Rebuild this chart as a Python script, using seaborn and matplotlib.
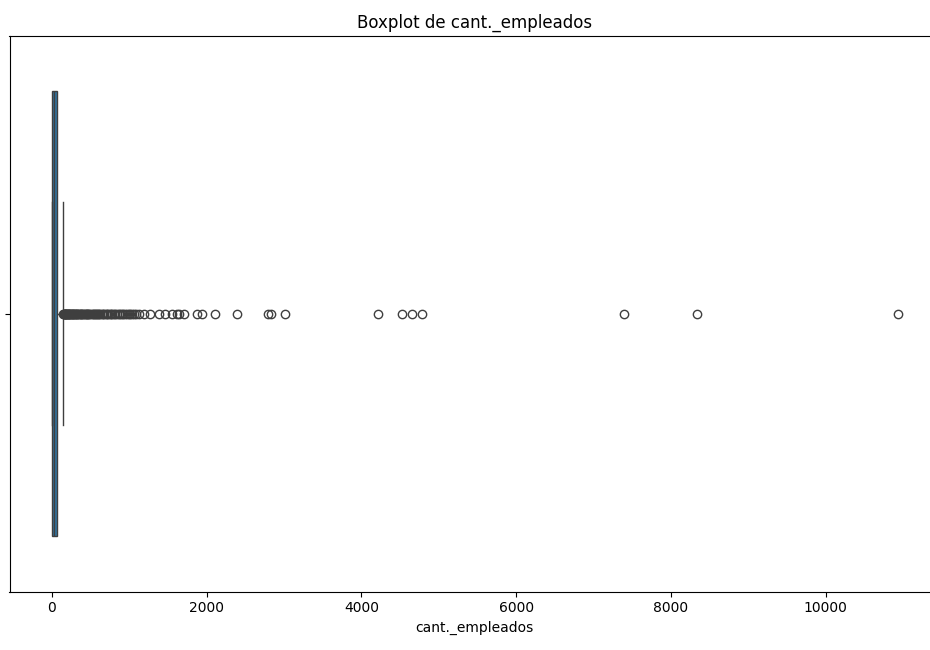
import numpy as np
import pandas as pd
import matplotlib
matplotlib.use("Agg")
import matplotlib.pyplot as plt
from matplotlib.ticker import NullLocator
import seaborn as sns

# Frequency table of the bulk of the distribution (value, count)
bulk_values = [1, 2, 3, 5, 8, 10, 12, 15, 20, 25, 30, 40, 50, 60, 65, 80, 100, 120, 145]
bulk_counts = [40, 30, 30, 40, 30, 40, 30, 40, 40, 50, 40, 40, 40, 40, 30, 20, 30, 20, 10]

# Large values (drawn as outliers)
outlier_values = [152, 158, 163, 168, 172, 178, 183, 188, 194, 200,
                  206, 213, 220, 227, 234, 241, 249, 256, 264, 272,
                  280, 290, 298, 306, 315, 324, 333, 342, 352, 362,
                  372, 382, 393, 404, 415, 426, 438, 450, 462, 475,
                  488, 500, 514, 528, 542, 556, 570, 585, 600, 615,
                  630, 646, 662, 678, 695, 712, 730, 748, 766, 785,
                  804, 823, 843, 863, 884, 905, 926, 948, 970, 992,
                  1015, 1040, 1065, 1095,
                  1123, 1187, 1274, 1381, 1467, 1553, 1618, 1650, 1703,
                  1876, 1940, 2112, 2392, 2800, 2830, 3015,
                  4219, 4521, 4650, 4779,
                  7390, 8332, 10929]

col_name = "cant._empleados"
values = np.concatenate([np.repeat(bulk_values, bulk_counts), np.array(outlier_values)])
df = pd.DataFrame({col_name: values})

fig = plt.figure(figsize=(9.3, 6.5), dpi=100)
ax = fig.add_axes([9.5 / 930, 58.3 / 650, 930.5 / 930, 556 / 650])
sns.boxplot(x=df[col_name], ax=ax)
ax.set_yticks([0])
ax.set_yticklabels([""])
ax.yaxis.set_minor_locator(NullLocator())
ax.xaxis.set_minor_locator(NullLocator())
ax.set_title("Boxplot de cant._empleados", fontsize=12)
ax.set_xlabel(col_name)
fig.savefig("out.png", dpi=100)
